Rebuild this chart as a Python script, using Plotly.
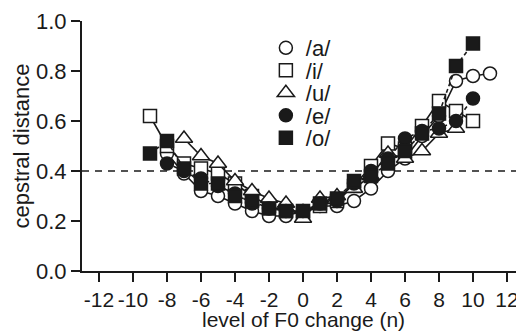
import plotly.graph_objects as go

x_a = list(range(-8, 12))
y_a = [0.47, 0.39, 0.32, 0.30, 0.27, 0.24, 0.22, 0.22, 0.24, 0.26, 0.26, 0.28, 0.33, 0.40, 0.45, 0.54, 0.62, 0.76, 0.78, 0.79]

x_i = list(range(-9, 11))
y_i = [0.62, 0.50, 0.43, 0.41, 0.39, 0.35, 0.30, 0.26, 0.24, 0.23, 0.26, 0.28, 0.34, 0.42, 0.51, 0.49, 0.58, 0.68, 0.64, 0.60]

x_u = list(range(-7, 10))
y_u = [0.53, 0.46, 0.43, 0.36, 0.32, 0.29, 0.27, 0.21, 0.29, 0.30, 0.33, 0.38, 0.47, 0.45, 0.48, 0.55, 0.57]

x_e = list(range(-8, 11))
y_e = [0.43, 0.40, 0.37, 0.34, 0.31, 0.27, 0.25, 0.24, 0.24, 0.27, 0.28, 0.35, 0.40, 0.45, 0.53, 0.56, 0.57, 0.60, 0.69]

x_o = list(range(-9, 11))
y_o = [0.47, 0.52, 0.41, 0.35, 0.35, 0.30, 0.28, 0.25, 0.24, 0.24, 0.27, 0.29, 0.36, 0.38, 0.43, 0.48, 0.55, 0.63, 0.82, 0.91]

x_ticks = list(range(-12, 13, 2))
y_ticks = [0.0, 0.2, 0.4, 0.6, 0.8, 1.0]
threshold = 0.4

series = [
    ("/a/", x_a, y_a, "circle-open", "solid"),
    ("/i/", x_i, y_i, "square-open", "solid"),
    ("/u/", x_u, y_u, "triangle-up-open", "solid"),
    ("/e/", x_e, y_e, "circle", "dash"),
    ("/o/", x_o, y_o, "square", "dash"),
]

INK = "#1a1a1a"
fig = go.Figure()
fig.add_trace(go.Scatter(x=[-13, 13], y=[threshold, threshold], mode="lines",
                         line=dict(color=INK, width=1.5, dash="7px,6px"), showlegend=False))
legend_layouts = {}
for k, (name, xs, ys, sym, dash) in enumerate(series):
    filled = not sym.endswith("open")
    base = sym.replace("-open", "")
    marker = dict(symbol=base, size=13 if base != "triangle-up" else 15,
                  color=INK if filled else "white",
                  line=dict(color=INK, width=1.5))
    fig.add_trace(go.Scatter(x=xs, y=ys, mode="lines+markers", name=name,
                             line=dict(color=INK, width=1.6, dash="4px,3px" if dash == "dash" else "solid"),
                             marker=marker, showlegend=False, cliponaxis=False))
    lname = "legend" if k == 0 else "legend%d" % (k + 1)
    fig.add_trace(go.Scatter(x=[None], y=[None], mode="markers", name=name,
                             marker=marker, showlegend=True, legend=lname))
    legend_layouts[lname] = dict(x=0.416, y=0.976 - k * 0.09, xanchor="left", yanchor="top",
                                 bgcolor="rgba(0,0,0,0)", font=dict(size=22),
                                 itemwidth=30, borderwidth=0)

fig.add_annotation(text="level of F0 change (n)", xref="paper", yref="paper", x=0.5, y=0,
                   yshift=-48, xanchor="center", yanchor="middle", showarrow=False,
                   font=dict(size=21, color=INK))

fig.update_layout(
    width=516, height=328,
    margin=dict(l=74, r=0, t=13, b=65),
    plot_bgcolor="white", paper_bgcolor="white",
    font=dict(family="Liberation Sans, Arial, sans-serif", size=22, color=INK),
    showlegend=True,
    xaxis=dict(range=[-13, 13], tickvals=x_ticks, ticktext=[str(v) for v in x_ticks],
               showgrid=False, zeroline=False, showline=True, linecolor=INK, linewidth=2,
               ticks="outside", ticklen=9, tickwidth=1.5, tickcolor=INK, automargin=False,
               tickfont=dict(size=21)),
    yaxis=dict(range=[0, 1.0], tickvals=y_ticks, ticktext=["%.1f" % v for v in y_ticks],
               showgrid=False, zeroline=False, showline=True, linecolor=INK, linewidth=2,
               ticks="outside", ticklen=9, tickwidth=1.5, tickcolor=INK, automargin=False,
               title=dict(text="cepstral distance", font=dict(size=22), standoff=0),
               tickfont=dict(size=22)),
    **legend_layouts,
)
fig.write_html("out.html")
